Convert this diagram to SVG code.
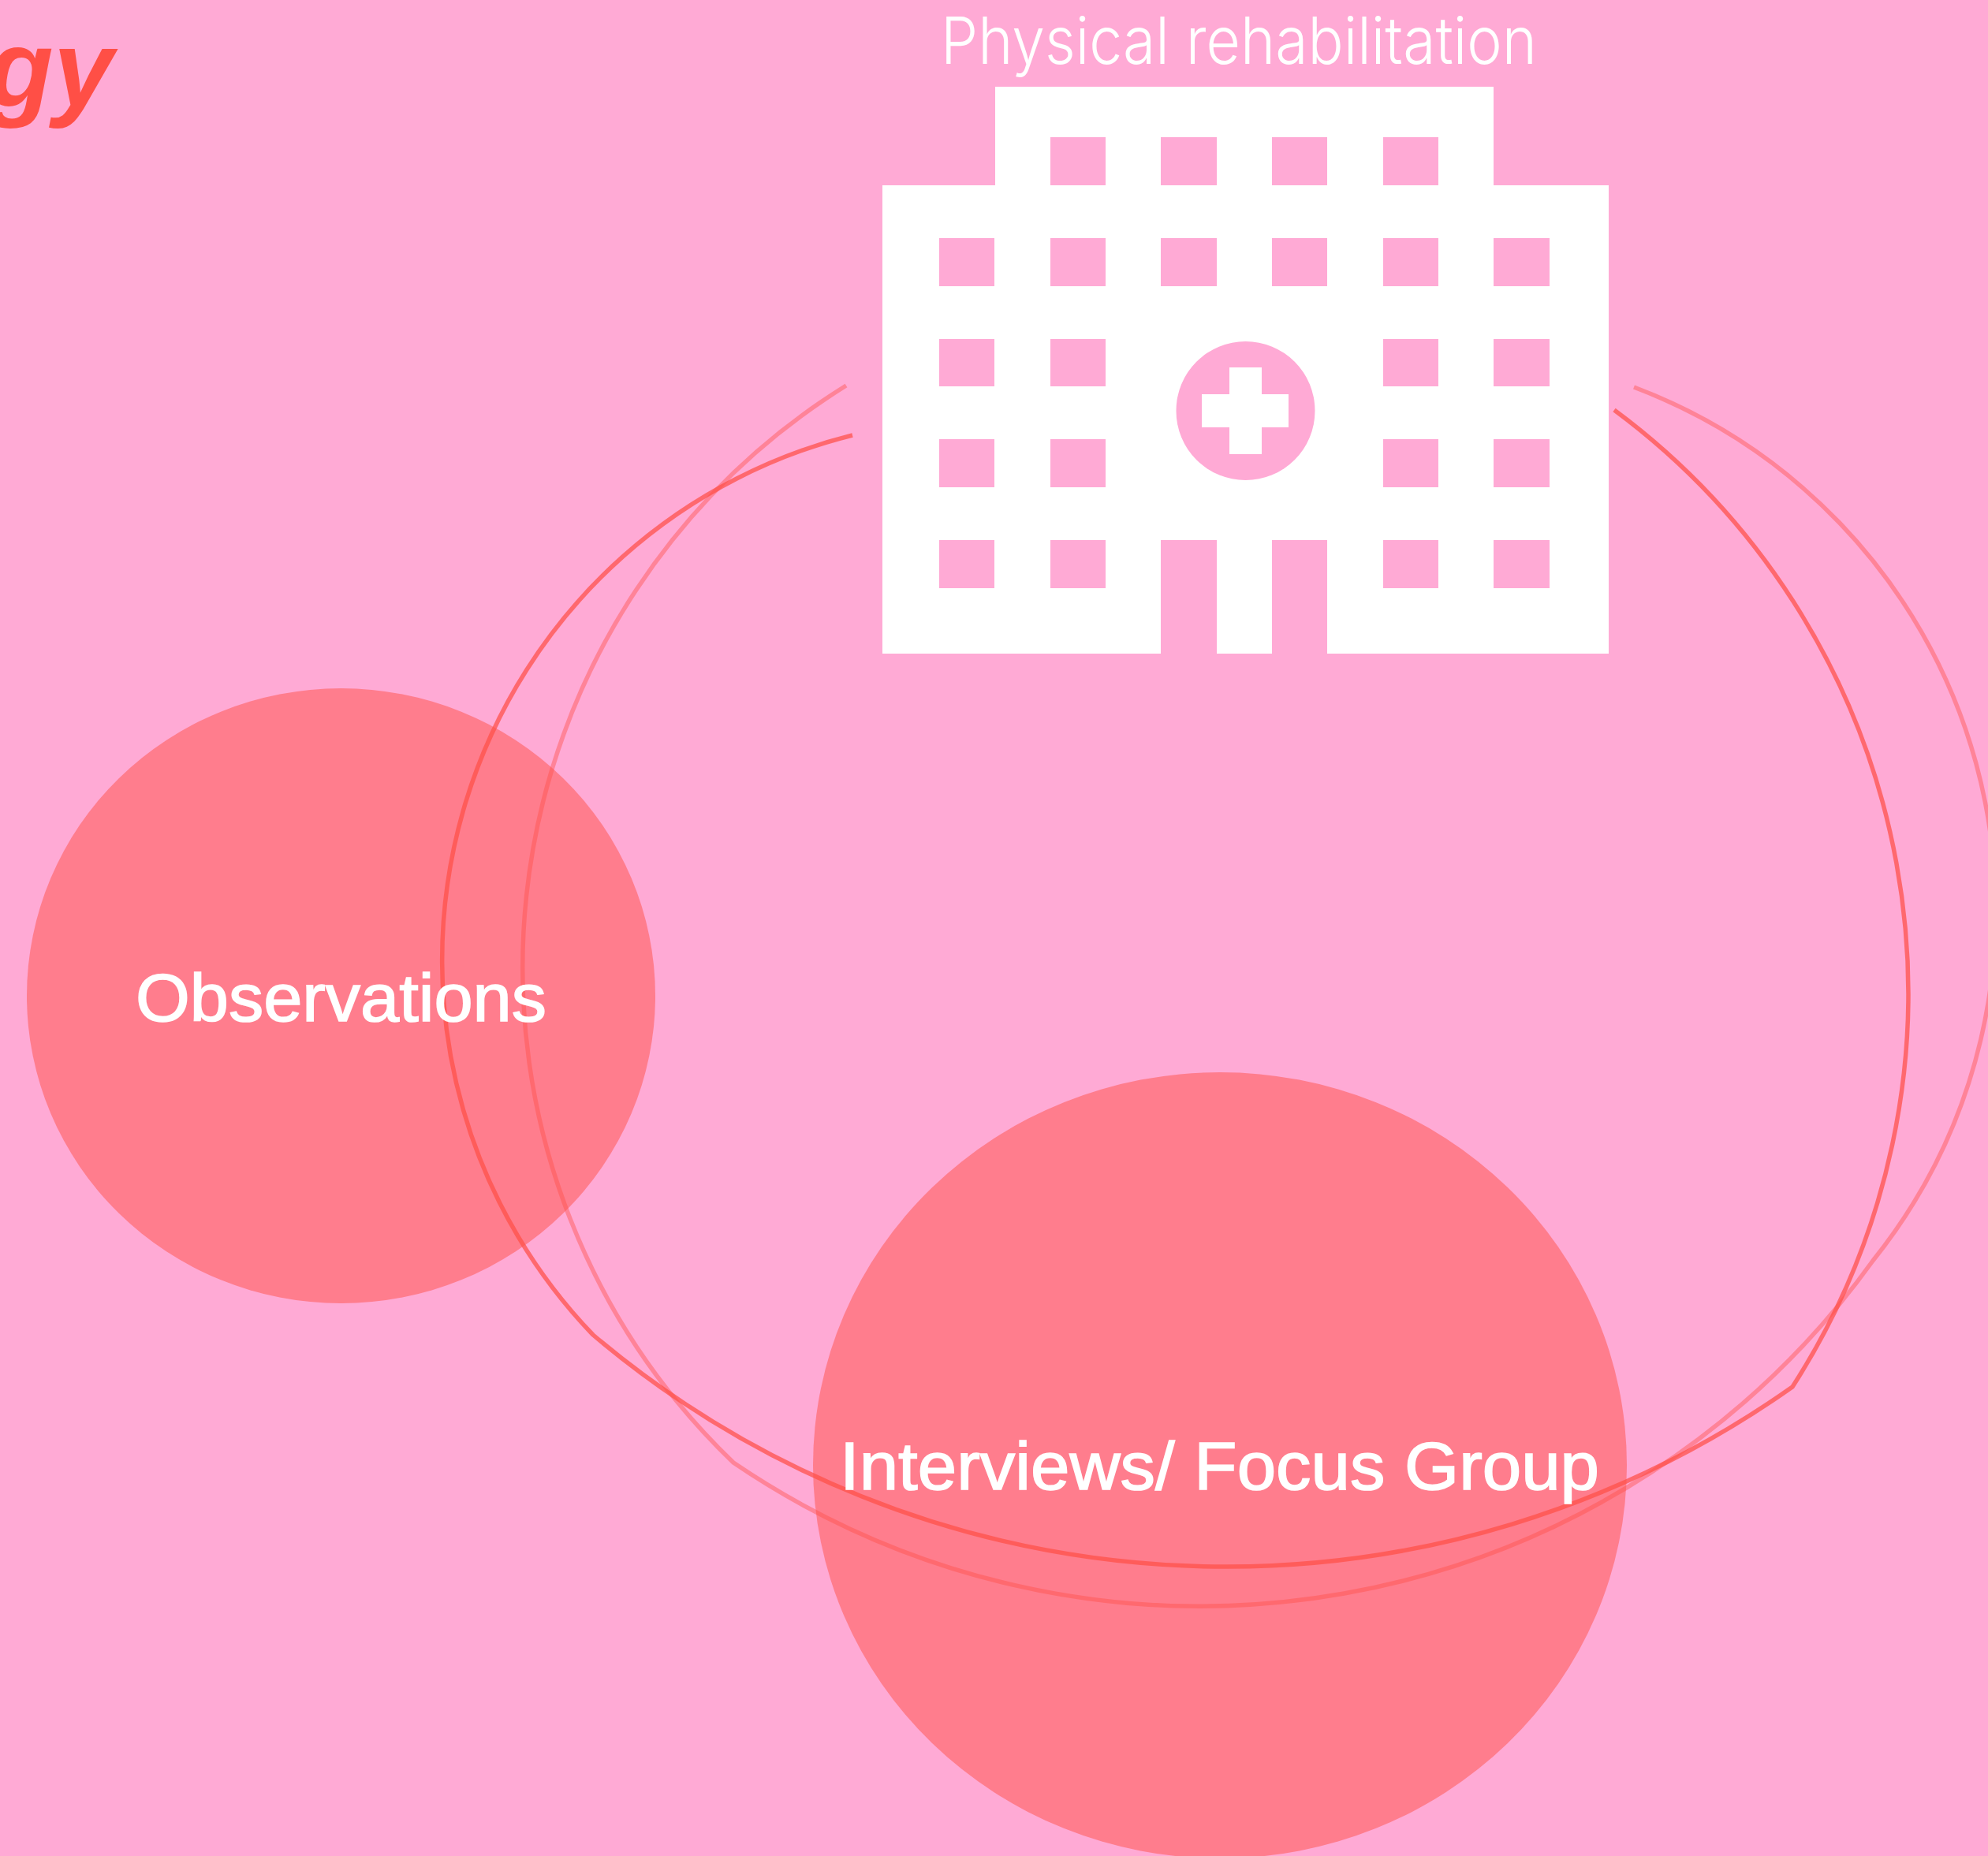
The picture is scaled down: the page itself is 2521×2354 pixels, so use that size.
<svg xmlns="http://www.w3.org/2000/svg" width="2521" height="2354" viewBox="0 0 2521 2354">
<style>
.bg{fill:#ffaad5}
.bubble{fill:#ff4f46;fill-opacity:.5}
.lbl{font-family:"Liberation Sans",Arial,sans-serif;font-size:86px;fill:#fff;stroke:#fff;stroke-width:1.6px}
.wire{fill:none;stroke:#ff4f46;stroke-width:5.5}
.strong{stroke-opacity:.72}
.light{stroke-opacity:.42}
.win{fill:#ffaad5}
</style>
<rect class="bg" width="2521" height="2354"/>
<g id="connectors">
<path class="wire strong" d="M1081 552A686 686 0 0 0 752 1693A1244 1244 0 0 0 2273 1759A921 921 0 0 0 2047 520"/>
<path class="wire light" d="M1073 489A870 870 0 0 0 930 1855A1051 1051 0 0 0 2375 1599A710 710 0 0 0 2072 491"/>
</g>
<g id="title-fragment"><text x="144" y="134" text-anchor="end" style="font-family:'Liberation Sans',Arial,sans-serif;font-size:137px;font-weight:700;font-style:italic;fill:#ff4f46">gy</text></g>
<g id="node-hospital">
<text x="1193" y="81" textLength="756" lengthAdjust="spacingAndGlyphs" style="font-family:Inter,'Liberation Sans',sans-serif;font-size:83px;font-weight:300;fill:#fff">Physical rehabilitation</text>
<path fill="#fff" d="M1262 110H1894V235H2040V829H1683V685H1613V829H1543V685H1472V829H1119V235H1262Z"/>
<g class="win">
<rect x="1332" y="174" width="70" height="61"/><rect x="1472" y="174" width="71" height="61"/><rect x="1613" y="174" width="70" height="61"/><rect x="1754" y="174" width="70" height="61"/>
<rect x="1191" y="302" width="70" height="61"/><rect x="1332" y="302" width="70" height="61"/><rect x="1472" y="302" width="71" height="61"/><rect x="1613" y="302" width="70" height="61"/><rect x="1754" y="302" width="70" height="61"/><rect x="1894" y="302" width="71" height="61"/>
<rect x="1191" y="430" width="70" height="60"/><rect x="1332" y="430" width="70" height="60"/><rect x="1754" y="430" width="70" height="60"/><rect x="1894" y="430" width="71" height="60"/>
<rect x="1191" y="557" width="70" height="61"/><rect x="1332" y="557" width="70" height="61"/><rect x="1754" y="557" width="70" height="61"/><rect x="1894" y="557" width="71" height="61"/>
<rect x="1191" y="685" width="70" height="61"/><rect x="1332" y="685" width="70" height="61"/><rect x="1754" y="685" width="70" height="61"/><rect x="1894" y="685" width="71" height="61"/>
<ellipse cx="1579.5" cy="521" rx="88" ry="88"/>
</g>
<path fill="#fff" d="M1559 466H1600V500H1634V542H1600V576H1559V542H1524V500H1559Z"/>
</g>
<g id="node-observations">
<ellipse class="bubble" cx="432.500" cy="1263" rx="398.500" ry="390"/>
<text class="lbl" x="172" y="1295" textLength="521" lengthAdjust="spacingAndGlyphs">Observations</text>
</g>
<g id="node-interviews">
<ellipse class="bubble" cx="1547" cy="1858.500" rx="516" ry="498.500"/>
<text class="lbl" x="1065" y="1889" textLength="963" lengthAdjust="spacingAndGlyphs">Interviews/ Focus Group</text>
</g>
</svg>
